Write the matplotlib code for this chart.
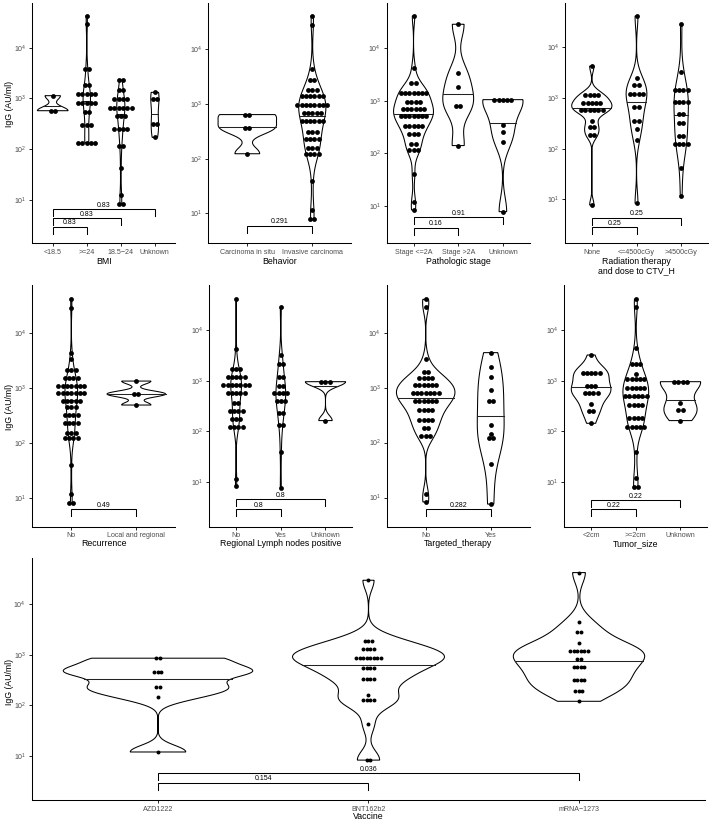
import numpy as np
import matplotlib
matplotlib.use("Agg")
import matplotlib.pyplot as plt

plt.rcParams['font.family'] = ['Liberation Sans', 'DejaVu Sans']
plt.rcParams['mathtext.default'] = 'regular'

# ---------------- data: IgG (AU/ml) per group ----------------
bmi_labels = ['<18.5', '>=24', '18.5\u221224', 'Unknown']
bmi_lt185 = [1130] + [571]*2
bmi_ge24 = [42900, 28900] + [3800]*2 + [1840]*2 + [1220]*5 + [822]*5 + [530]*2 + [298]*3 + [134]*5
bmi_185_24 = [2300]*2 + [1460]*2 + [957]*4 + [656]*6 + [456]*3 + [249]*4 + [117]*2 + [41.6, 12.4] + [8.2]*2
bmi_unknown = [1315] + [972]*2 + [312]*2 + [170]
bmi_p = ['0.83', '0.83', '0.83']

beh_labels = ['Carcinoma in situ', 'Invasive carcinoma']
beh_insitu = [638]*2 + [361]*2 + [123]
beh_invasive = ([40300, 27700, 4330] + [2770]*2 + [1770]*3 + [1380]*6 + [944]*8 + [686]*5 + [483]*6
                + [305]*3 + [224]*4 + [154]*3 + [120]*4 + [39, 11.6] + [7.9]*2)
beh_p = ['0.291']

stage_labels = ['Stage <=2A', 'Stage >2A', 'Unknown']
stage_le2a = ([41200, 4280] + [2150]*2 + [1430]*7 + [962]*4 + [698]*6 + [513]*7 + [331]*5 + [233]*3
              + [150]*2 + [116]*3 + [40, 12, 8.3])
stage_gt2a = [28700, 3390, 1810] + [807]*2 + [140]
stage_unknown = [1050]*5 + [346, 251, 164, 7.7]
stage_p = ['0.16', '0.91']

rad_labels = ['None', '<=4500cGy', '>4500cGy']
rad_none = [4270] + [1146]*4 + [807]*5 + [579]*6 + [357] + [264]*2 + [186]*2 + [7.7]
rad_le4500 = [41500, 2440] + [1800]*2 + [1196]*4 + [653]*2 + [357]*2 + [240, 148, 8.3]
rad_gt4500 = [28800, 3300] + [1437]*4 + [845]*4 + [483]*2 + [326]*2 + [177]*2 + [124]*4 + [40.7, 11.8]
rad_p = ['0.25', '0.25']

rec_labels = ['No', 'Local and regional']
rec_no = ([40400, 28500, 4210, 3270] + [2094]*3 + [1480]*4 + [1087]*7 + [789]*7 + [581]*5 + [439]*3
          + [319]*4 + [231]*4 + [152]*3 + [120]*4 + [39.3, 11.7] + [7.9]*2)
rec_local = [1320] + [768]*2 + [484]
rec_p = ['0.49']

lymph_labels = ['No', 'Yes', 'Unknown']
lymph_no = ([40300, 4220] + [1727]*3 + [1180]*5 + [809]*7 + [562]*5 + [357]*2 + [256]*4 + [175]*3
            + [124]*4 + [11.5, 8.3])
lymph_yes = [28000, 3210] + [2100]*2 + [1200]*2 + [796]*2 + [562]*4 + [397]*3 + [234]*2 + [133]*2 + [39.7, 7.5]
lymph_unknown = [955]*3 + [163]
lymph_p = ['0.8', '0.8']

tt_labels = ['No', 'Yes']
tt_no = ([40400, 29700, 3270] + [1900]*2 + [1480]*4 + [1100]*6 + [789]*7 + [573]*6 + [393]*4 + [262]*4
         + [188]*2 + [134]*3 + [11.7, 8.3])
tt_yes = [4330, 2410, 1585, 907] + [581]*2 + [210, 144] + [120]*2 + [40.3, 7.6]
tt_p = ['0.282']

ts_labels = ['<2cm', '>=2cm', 'Unknown']
ts_lt2 = [3210] + [1440]*5 + [785]*3 + [562]*4 + [347] + [256]*2 + [144]
ts_ge2 = ([40300, 28800, 4350] + [2100]*3 + [1333] + [1062]*5 + [706]*5 + [498]*6 + [331]*4 + [181]*4
          + [124]*5 + [39.7, 11.8] + [7.9]*2)
ts_unknown = [955]*4 + [357] + [264]*2 + [163]
ts_p = ['0.22', '0.22']

vac_labels = ['AZD1222', 'BNT162b2', 'mRNA\u22121273']
vac_azd = [850]*2 + [462]*3 + [230]*2 + [148, 12]
vac_bnt = [29300] + [1862]*3 + [1275]*4 + [873]*8 + [537]*4 + [326]*4 + [158] + [126]*4 + [42] + [8.3]*2
vac_mrna = [41500, 4480] + [2845]*2 + [1700] + [1200]*6 + [809]*2 + [571]*4 + [312]*4 + [192]*3 + [120]
vac_p = ['0.154', '0.036']

# ---------------- layout (pixels of a 709x823 canvas) ----------------
W, H = 709, 823
fig = plt.figure(figsize=(W/100, H/100), dpi=100)


def nrd0(x):
    hi = np.std(x, ddof=1)
    q75, q25 = np.percentile(x, [75, 25])
    lo = min(hi, (q75 - q25)/1.34)
    if lo == 0:
        lo = hi if hi > 0 else 1.0
    return 0.9*lo*len(x)**-0.2


def panel(rect, groups, labels, ylim, brackets, pvals, xtitle, dot_px=4.3, ylab=None):
    left, top, right, bottom = rect
    ax = fig.add_axes([left/W, 1 - bottom/H, (right - left)/W, (bottom - top)/H])
    n = len(groups)
    ax.set_xlim(0.4, n + 0.6)
    ax.set_ylim(*ylim)
    xpp = (n + 0.2)/(right - left)
    ypp = (ylim[1] - ylim[0])/(bottom - top)

    # trimmed gaussian kde on log10 values, widths scaled by area across the panel
    dens = []
    for g in groups:
        y = np.log10(np.array(g, dtype=float))
        bw = nrd0(y)
        grid = np.linspace(y.min(), y.max(), 512)
        d = np.exp(-0.5*((grid[:, None] - y[None, :])/bw)**2).sum(1)/(len(y)*bw*np.sqrt(2*np.pi))
        dens.append((grid, d))
    dmax = max(d.max() for _, d in dens)

    for k, (grid, d) in enumerate(dens):
        x0 = k + 1
        hw = d/dmax*0.45
        ax.fill(np.concatenate([x0 - hw, (x0 + hw)[::-1]]), np.concatenate([grid, grid[::-1]]),
                facecolor='white', edgecolor='black', lw=0.75, zorder=2)
        cdf = np.cumsum(d)/d.sum()
        ym = np.interp(0.5, cdf, grid)
        hm = np.interp(ym, grid, hw)
        ax.plot([x0 - hm, x0 + hm], [ym, ym], color='#222222', lw=0.75, zorder=3)
        vals, counts = np.unique(np.log10(np.array(groups[k], dtype=float)), return_counts=True)
        for v, c in zip(vals, counts):
            offs = (np.arange(c) - (c - 1)/2)*dot_px*xpp
            ax.scatter(x0 + offs, np.full(c, v), s=(dot_px*1.12*0.72)**2, c='black', lw=0, zorder=4)

    tip = 7*ypp
    for (i, j, yb), lab in zip(brackets, pvals):
        ax.plot([i, i, j, j], [yb - tip, yb, yb, yb - tip], color='black', lw=0.75, zorder=5,
                solid_joinstyle='miter')
        ax.text((i + j)/2, yb + 0.3*ypp, lab, ha='center', va='bottom', fontsize=5.0, zorder=6)

    ax.set_xticks(range(1, n + 1))
    ax.set_xticklabels(labels)
    ax.set_yticks([1, 2, 3, 4])
    ax.set_yticklabels(['$10^{%d}$' % e for e in [1, 2, 3, 4]])
    for s in ['top', 'right']:
        ax.spines[s].set_visible(False)
    for s in ['left', 'bottom']:
        ax.spines[s].set_linewidth(0.75)
    ax.tick_params(length=2.2, width=0.6, labelsize=5.1, labelcolor='#4d4d4d', pad=1.8)

    xt, yt = xtitle
    fig.text(((left + right)/2)/W, 1 - yt/H, xt, ha='center', va='center', fontsize=6.3,
             linespacing=1.0)
    if ylab is not None:
        fig.text(10/W, 1 - ylab/H, 'IgG (AU/ml)', rotation=90, ha='center', va='center', fontsize=6.3)
    return ax


# row 1
panel((32.3, 3, 175.3, 243.3), [bmi_lt185, bmi_ge24, bmi_185_24, bmi_unknown], bmi_labels,
      (0.140, 4.882), [(1, 2, 0.467), (1, 3, 0.63), (1, 4, 0.81)], bmi_p, ('BMI', 262), ylab=103.5)
panel((208.3, 3, 351.3, 243.3), [beh_insitu, beh_invasive], beh_labels,
      (0.455, 4.842), [(1, 2, 0.775)], beh_p, ('Behavior', 262))
panel((386.7, 3, 529.7, 243.3), [stage_le2a, stage_gt2a, stage_unknown], stage_labels,
      (0.284, 4.863), [(1, 2, 0.583), (1, 3, 0.780)], stage_p, ('Pathologic stage', 262))
panel((565, 3, 708, 243.3), [rad_none, rad_le4500, rad_gt4500], rad_labels,
      (0.132, 4.875), [(1, 2, 0.447), (1, 3, 0.638)], rad_p,
      ('Radiation therapy\nand dose to CTV_H', 266.3))

# row 2
panel((32.3, 285, 175.3, 526.7), [rec_no, rec_local], rec_labels,
      (0.473, 4.867), [(1, 2, 0.788)], rec_p, ('Recurrence', 544), ylab=406.5)
panel((209.3, 285, 352.3, 526.7), [lymph_no, lymph_yes, lymph_unknown], lymph_labels,
      (0.118, 4.888), [(1, 2, 0.461), (1, 3, 0.658)], lymph_p, ('Regional Lymph nodes positive', 544))
panel((386.7, 285, 529.7, 526.7), [tt_no, tt_yes], tt_labels,
      (0.47, 4.867), [(1, 2, 0.788)], tt_p, ('Targeted_therapy', 544))
panel((564.3, 285, 707.3, 526.7), [ts_lt2, ts_ge2, ts_unknown], ts_labels,
      (0.118, 4.888), [(1, 2, 0.461), (1, 3, 0.645)], ts_p, ('Tumor_size', 544))

# row 3
panel((31.7, 558.3, 705.3, 800), [vac_azd, vac_bnt, vac_mrna], vac_labels,
      (0.132, 4.90), [(1, 2, 0.474), (1, 3, 0.658)], vac_p, ('Vaccine', 816.7),
      dot_px=3.5, ylab=682)

fig.savefig('out.png', dpi=100)
